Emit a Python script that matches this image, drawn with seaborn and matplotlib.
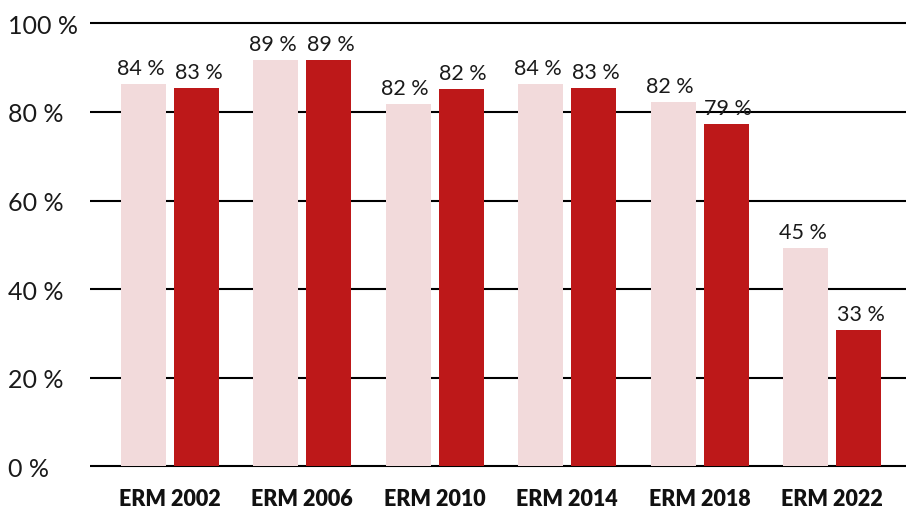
import matplotlib
matplotlib.use("Agg")
import matplotlib.pyplot as plt
import seaborn as sns
import pandas as pd

categories = ["ERM 2002", "ERM 2006", "ERM 2010", "ERM 2014", "ERM 2018", "ERM 2022"]
series_names = ["A", "B"]
series_a = [86.3, 91.7, 81.8, 86.3, 82.2, 49.3]
series_b = [85.4, 91.7, 85.2, 85.4, 77.3, 30.8]
labels_a = ["84 %", "89 %", "82 %", "84 %", "82 %", "45 %"]
labels_b = ["83 %", "89 %", "82 %", "83 %", "79 %", "33 %"]
yticks = [0, 20, 40, 60, 80, 100]
ytick_labels = ["0 %", "20 %", "40 %", "60 %", "80 %", "100 %"]

light = "#F2DADB"
dark = "#BD1819"

df = pd.DataFrame({
    "cat": categories * 2,
    "val": series_a + series_b,
    "series": [series_names[0]] * len(categories) + [series_names[1]] * len(categories),
})

sns.set_theme(style="white")
plt.rcParams["font.family"] = ["Lato", "DejaVu Sans"]

W, H = 906, 510
fig = plt.figure(figsize=(W / 100, H / 100), dpi=100)
ax = fig.add_axes([90 / W, (H - 469.7) / H, 1 - 90 / W, (469.7 - 19.9) / H])

sns.barplot(data=df, x="cat", y="val", hue="series", hue_order=series_names,
            palette=[light, dark], width=0.80, gap=0.151, saturation=1,
            legend=False, ax=ax, errorbar=None, linewidth=0, edgecolor="none")

for cont, labs, dx in zip(ax.containers, [labels_a, labels_b], [-3, 2]):
    for bar, lab in zip(cont, labs):
        ax.annotate(lab, (bar.get_x() + bar.get_width() / 2, bar.get_height()),
                    xytext=(dx * 0.72, 7.2), textcoords="offset points",
                    ha="center", va="baseline", fontsize=15.5, color="#1a1a1a")

ax.set_xlim(-0.604, 5.559)
ax.set_ylim(-0.5, 101)
ax.set_yticks(yticks)
ax.set_yticklabels(ytick_labels)
ax.yaxis.grid(True, color="black", linewidth=1.5)
ax.xaxis.grid(False)
ax.set_axisbelow(True)
for s in ax.spines.values():
    s.set_visible(False)
ax.set_xlabel("")
ax.set_ylabel("")
ax.tick_params(axis="y", length=0, pad=59, labelsize=18, labelcolor="#1a1a1a")
for t in ax.get_yticklabels():
    t.set_ha("left")
ax.tick_params(axis="x", length=0, pad=14, labelsize=15.5, labelcolor="#111111")
for t in ax.get_xticklabels():
    t.set_fontweight("heavy")

fig.savefig("out.png", dpi=100)
